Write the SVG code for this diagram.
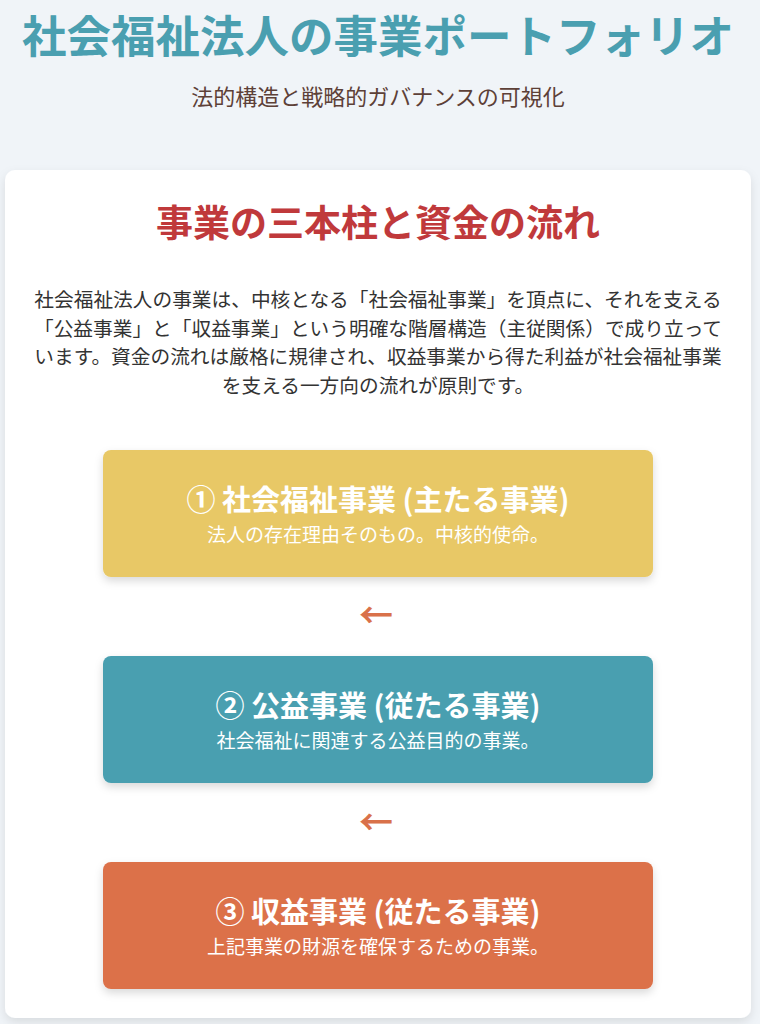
<svg xmlns="http://www.w3.org/2000/svg" width="760" height="1024" viewBox="0 0 760 1024">
<defs>
<filter id="cardShadow" x="-5%" y="-5%" width="110%" height="110%">
<feDropShadow dx="0" dy="4" stdDeviation="5" flood-color="#000" flood-opacity="0.10"/>
</filter>
<filter id="boxShadow" x="-5%" y="-10%" width="110%" height="130%">
<feDropShadow dx="0" dy="4" stdDeviation="4" flood-color="#000" flood-opacity="0.15"/>
</filter>
</defs>
<style>
text{font-family:"Noto Sans CJK JP","Noto Sans",sans-serif;text-anchor:middle}
.title{font-size:44.5px;font-weight:700;fill:#4a9fb0}
.subtitle{font-size:22px;fill:#5d4037}
.heading{font-size:37px;font-weight:700;fill:#c0393b}
.para{font-size:19.7px;fill:#333333}
.boxTitle{font-size:29px;font-weight:700;fill:#ffffff}
.boxSub{font-size:19px;fill:#ffffff}
.arrow{font-size:34px;font-weight:700;fill:#d9714a}
</style>
<rect x="0" y="0" width="760" height="1024" fill="#f0f4f8"/>
<g id="header">
<text class="title" x="378" y="53">社会福祉法人の事業ポートフォリオ</text>
<text class="subtitle" x="378" y="105">法的構造と戦略的ガバナンスの可視化</text>
</g>
<g id="card">
<rect x="5" y="170" width="746" height="848" rx="10" fill="#ffffff" filter="url(#cardShadow)"/>
<text class="heading" x="378" y="237">事業の三本柱と資金の流れ</text>
<text class="para" x="378" y="307">社会福祉法人の事業は、中核となる「社会福祉事業」を頂点に、それを支える</text>
<text class="para" x="378" y="336">「公益事業」と「収益事業」という明確な階層構造（主従関係）で成り立って</text>
<text class="para" x="378" y="364">います。資金の流れは厳格に規律され、収益事業から得た利益が社会福祉事業</text>
<text class="para" x="378" y="393">を支える一方向の流れが原則です。</text>
</g>
<g id="box1">
<rect x="103" y="450" width="550" height="127" rx="8" fill="#e8c866" filter="url(#boxShadow)"/>
<text class="boxTitle" x="378" y="511">① 社会福祉事業 (主たる事業)</text>
<text class="boxSub" x="378" y="542">法人の存在理由そのもの。中核的使命。</text>
</g>
<g id="box2">
<rect x="103" y="656" width="550" height="127" rx="8" fill="#4a9fb0" filter="url(#boxShadow)"/>
<text class="boxTitle" x="378" y="717">② 公益事業 (従たる事業)</text>
<text class="boxSub" x="378" y="748">社会福祉に関連する公益目的の事業。</text>
</g>
<g id="box3">
<rect x="103" y="862" width="550" height="127" rx="8" fill="#dc714a" filter="url(#boxShadow)"/>
<text class="boxTitle" x="378" y="923">③ 収益事業 (従たる事業)</text>
<text class="boxSub" x="378" y="954">上記事業の財源を確保するための事業。</text>
</g>
<g id="connectors">
<text class="arrow" x="376" y="628">←</text>
<text class="arrow" x="376" y="835">←</text>
</g>
</svg>
